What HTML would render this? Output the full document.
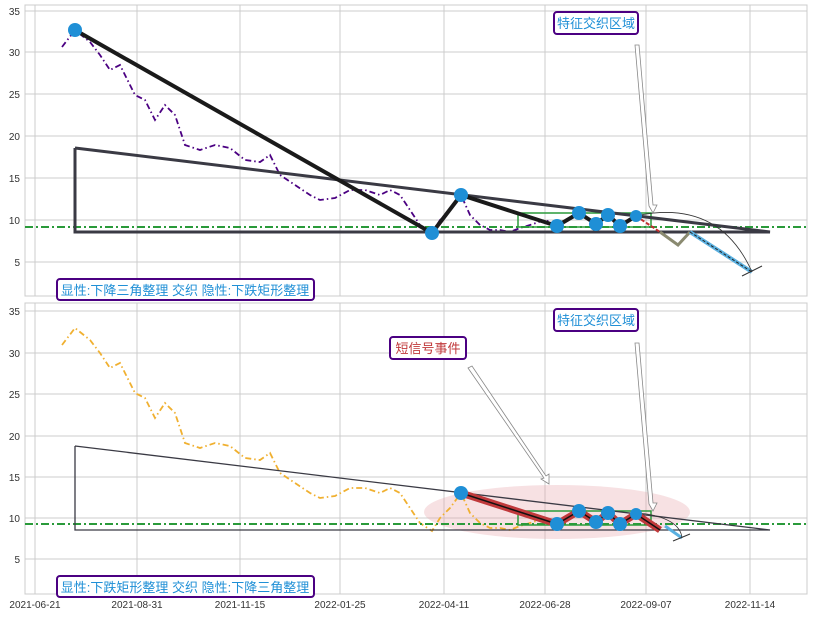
<!DOCTYPE html>
<html><head><meta charset="utf-8"><style>
body{margin:0;background:#fff;}
svg{display:block;font-family:"Liberation Sans","Noto Sans CJK SC",sans-serif;}
</style></head><body>
<svg width="813" height="617" viewBox="0 0 813 617">
<defs>
<g id="grid">
<rect x="25" y="0" width="782" height="291" fill="#fff" stroke="#ccc"/>
<g stroke="#ccc" stroke-width="1">
<line x1="35" y1="0" x2="35" y2="291"/><line x1="137" y1="0" x2="137" y2="291"/><line x1="240" y1="0" x2="240" y2="291"/><line x1="340" y1="0" x2="340" y2="291"/><line x1="444" y1="0" x2="444" y2="291"/><line x1="545" y1="0" x2="545" y2="291"/><line x1="646" y1="0" x2="646" y2="291"/><line x1="750" y1="0" x2="750" y2="291"/>
</g>
</g>
</defs>
<!-- top panel -->
<g transform="translate(0,5)"><use href="#grid"/>
<g stroke="#ccc"><line x1="25" y1="6" x2="807" y2="6"/><line x1="25" y1="47" x2="807" y2="47"/><line x1="25" y1="89" x2="807" y2="89"/><line x1="25" y1="131" x2="807" y2="131"/><line x1="25" y1="173" x2="807" y2="173"/><line x1="25" y1="215" x2="807" y2="215"/><line x1="25" y1="257" x2="807" y2="257"/></g>
<g font-size="10" fill="#333" text-anchor="end"><text x="20" y="10">35</text><text x="20" y="51">30</text><text x="20" y="93">25</text><text x="20" y="135">20</text><text x="20" y="177">15</text><text x="20" y="219">10</text><text x="20" y="261">5</text></g>
</g>
<g id="ptop">
<polyline fill="none" stroke="#4b0082" stroke-width="1.8" stroke-dasharray="6,3,1.5,3" points="62,47 75,30 90,42 100,55 110,70 120,65 125,75 135,95 145,100 155,120 165,105 175,115 185,145 200,150 215,145 230,148 245,160 260,162 270,155 280,175 295,185 310,195 320,200 335,198 350,190 365,190 380,195 390,190 400,195 410,210 420,225 432,233 440,220 450,210 461,195 470,215 480,225 490,230 500,230 510,232 520,228 530,225 545,220 558,225"/>
<rect x="518" y="213" width="133" height="14" fill="none" stroke="#2a9a3a" stroke-width="1.5"/>
<line x1="25" y1="227" x2="807" y2="227" stroke="#2a9a3a" stroke-width="2" stroke-dasharray="8,3,2,3"/>
<polyline fill="none" stroke="#3a3a44" stroke-width="3" points="75,148 75,232 770,232 75,148"/>
<polyline fill="none" stroke="#1a1a1a" stroke-width="4" points="75,30 432,233 461,195 557,226 579,213 596,224 608,215 620,226 636,216"/>
<line x1="636" y1="216" x2="660" y2="232" stroke="#c03030" stroke-width="2" stroke-dasharray="4,2"/>
<polyline fill="none" stroke="#8a8a70" stroke-width="3" points="660,232 678,245 690,232"/>
<line x1="690" y1="232" x2="752" y2="272" stroke="#5ab0e0" stroke-width="4"/>
<line x1="690" y1="232" x2="752" y2="272" stroke="#222" stroke-width="1" stroke-dasharray="3,2"/>
<path d="M640,215 Q720,200 752,272" fill="none" stroke="#333" stroke-width="0.8"/>
<line x1="742" y1="276" x2="762" y2="266" stroke="#333"/>
<polygon points="635,45 639,45 653,205 657,205 653,213 649,206" fill="#fff" stroke="#888" stroke-width="0.8"/>
<g fill="#1f8fd6"><circle cx="75" cy="30" r="7"/><circle cx="432" cy="233" r="7"/><circle cx="461" cy="195" r="7"/><circle cx="557" cy="226" r="7"/><circle cx="579" cy="213" r="7"/><circle cx="596" cy="224" r="7"/><circle cx="608" cy="215" r="7"/><circle cx="620" cy="226" r="7"/><circle cx="636" cy="216" r="6"/></g>
</g>
<rect x="554" y="12" width="84" height="22" rx="3" fill="#fff" stroke="#4b0082" stroke-width="2"/>
<text x="596" y="28" font-size="13" fill="#1f8fd6" text-anchor="middle">特征交织区域</text>
<rect x="57" y="279" width="257" height="21" rx="3" fill="#fff" stroke="#4b0082" stroke-width="2"/>
<text x="185" y="295" font-size="13" fill="#1f8fd6" text-anchor="middle">显性:下降三角整理 交织 隐性:下跌矩形整理</text>

<!-- bottom panel -->
<g transform="translate(0,303)"><use href="#grid"/>
<g stroke="#ccc"><line x1="25" y1="8" x2="807" y2="8"/><line x1="25" y1="50" x2="807" y2="50"/><line x1="25" y1="91" x2="807" y2="91"/><line x1="25" y1="133" x2="807" y2="133"/><line x1="25" y1="174" x2="807" y2="174"/><line x1="25" y1="215" x2="807" y2="215"/><line x1="25" y1="256" x2="807" y2="256"/></g>
<g font-size="10" fill="#333" text-anchor="end"><text x="20" y="12">35</text><text x="20" y="54">30</text><text x="20" y="95">25</text><text x="20" y="137">20</text><text x="20" y="178">15</text><text x="20" y="219">10</text><text x="20" y="260">5</text></g>
</g>
<g transform="translate(0,298)">
<ellipse cx="557" cy="214" rx="133" ry="27" fill="#e8a8b0" opacity="0.35"/>
<polyline fill="none" stroke="#f0b030" stroke-width="1.8" stroke-dasharray="6,3,1.5,3" points="62,47 75,30 90,42 100,55 110,70 120,65 125,75 135,95 145,100 155,120 165,105 175,115 185,145 200,150 215,145 230,148 245,160 260,162 270,155 280,175 295,185 310,195 320,200 335,198 350,190 365,190 380,195 390,190 400,195 410,210 420,225 432,233 440,220 450,210 461,195 470,215 480,225 490,230 500,230 510,232 520,228 530,225 545,220 558,225"/>
<rect x="518" y="213" width="133" height="14" fill="none" stroke="#2a9a3a" stroke-width="1.5"/>
<line x1="25" y1="226" x2="807" y2="226" stroke="#2a9a3a" stroke-width="2" stroke-dasharray="8,3,2,3"/>
<polyline fill="none" stroke="#3a3a44" stroke-width="1.3" points="75,148 75,232 770,232 75,148"/>
<polyline fill="none" stroke="#c0393b" stroke-width="7" points="461,195 557,226 579,213 596,224 608,215 620,226 636,216 660,232"/>
<polyline fill="none" stroke="#111" stroke-width="1.5" points="461,195 557,226 579,213 596,224 608,215 620,226 636,216 660,232"/>
<line x1="665" y1="228" x2="682" y2="240" stroke="#5ab0e0" stroke-width="3"/>
<path d="M640,215 Q680,220 682,240" fill="none" stroke="#333" stroke-width="0.8"/>
<line x1="673" y1="243" x2="690" y2="236" stroke="#333"/>
<polygon points="635,45 639,45 653,205 657,205 653,213 649,206" fill="#fff" stroke="#888" stroke-width="0.8"/>
<polygon points="468,70 472,68 546,178 549,176 549,186 541,181 544,180" fill="#fff" stroke="#888" stroke-width="0.8"/>
<g fill="#1f8fd6"><circle cx="461" cy="195" r="7"/><circle cx="557" cy="226" r="7"/><circle cx="579" cy="213" r="7"/><circle cx="596" cy="224" r="7"/><circle cx="608" cy="215" r="7"/><circle cx="620" cy="226" r="7"/><circle cx="636" cy="216" r="6"/></g>
</g>
<rect x="554" y="309" width="84" height="22" rx="3" fill="#fff" stroke="#4b0082" stroke-width="2"/>
<text x="596" y="325" font-size="13" fill="#1f8fd6" text-anchor="middle">特征交织区域</text>
<rect x="390" y="337" width="76" height="22" rx="3" fill="#fff" stroke="#4b0082" stroke-width="2"/>
<text x="428" y="353" font-size="13" fill="#c0393b" text-anchor="middle">短信号事件</text>
<rect x="57" y="576" width="257" height="21" rx="3" fill="#fff" stroke="#4b0082" stroke-width="2"/>
<text x="185" y="592" font-size="13" fill="#1f8fd6" text-anchor="middle">显性:下跌矩形整理 交织 隐性:下降三角整理</text>
<g font-size="10" fill="#333" text-anchor="middle"><text x="35" y="608">2021-06-21</text><text x="137" y="608">2021-08-31</text><text x="240" y="608">2021-11-15</text><text x="340" y="608">2022-01-25</text><text x="444" y="608">2022-04-11</text><text x="545" y="608">2022-06-28</text><text x="646" y="608">2022-09-07</text><text x="750" y="608">2022-11-14</text></g>
</svg>
</body></html>
